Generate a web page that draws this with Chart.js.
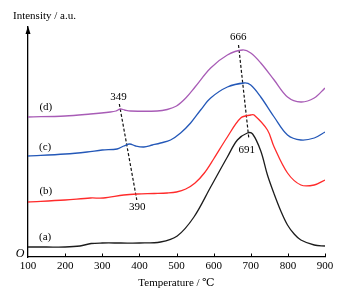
<!DOCTYPE html>
<html>
<head>
<meta charset="utf-8">
<script src="https://cdn.jsdelivr.net/npm/chart.js@4.4.0/dist/chart.umd.min.js"></script>
<style>
  html, body { margin: 0; padding: 0; background: #fff; }
  #wrap { width: 350px; height: 294px; }
</style>
</head>
<body>
<div id="wrap"><canvas id="myChart" width="350" height="294"></canvas></div>
<script>
// curve (a)
const tempA = [100, 150, 200, 240, 270, 300, 350, 400, 457, 502, 547, 592, 637, 664, 691, 705, 727, 745, 763, 781, 799, 817, 835, 871, 900];
const valA  = [10, 10, 10, 11, 13.5, 14, 14, 14, 15, 21, 40, 70, 100, 117, 124, 123, 106, 82, 63, 46, 32, 23, 17, 12, 11];
// curve (b)
const tempB = [100, 200, 268, 303, 358, 394, 440, 475, 500, 525, 550, 575, 600, 637, 673, 700, 709, 745, 763, 799, 835, 871, 900];
const valB  = [55, 57, 59, 59, 62, 63, 63.5, 64, 65, 68, 74, 84, 98, 120, 139, 142, 142, 127, 110, 84, 72, 72, 77];
// curve (c)
const tempC = [100, 200, 259, 300, 340, 358, 374, 390, 412, 435, 457, 484, 511, 538, 565, 592, 637, 682, 700, 727, 763, 799, 835, 871, 900];
const valC  = [101, 103, 105, 107, 108, 111, 113, 111, 110, 112, 114, 117, 124, 134, 147, 159, 170, 174, 172, 160, 140, 122, 117, 119, 125];
// curve (d)
const tempD = [100, 200, 268, 322, 337, 349, 360, 376, 448, 475, 500, 525, 550, 592, 637, 678, 700, 727, 763, 799, 835, 871, 900];
const valD  = [140, 141, 143, 145, 146, 148, 147, 146, 146, 147.5, 151, 159, 170, 189, 202, 207, 204, 194, 177, 160, 155, 159, 169];
// dashed guide lines
const guideLowT = [346, 393];
const guideLowV = [153, 57];
const guideHighT = [667, 695];
const guideHighV = [212, 118];
// tick labels
const xTicks = [100, 200, 300, 400, 500, 600, 700, 800, 900];

const serif = "'Liberation Serif', 'DejaVu Serif', serif";

const toPoints = (xs, ys) => xs.map((x, i) => ({ x: x, y: ys[i] }));

const curve = (pts, color) => ({
  data: pts,
  borderColor: color,
  borderWidth: 1.3,
  pointRadius: 0,
  tension: 0.35,
  fill: false,
});

const guide = (pts) => ({
  data: pts,
  borderColor: "#111",
  borderWidth: 1.2,
  borderDash: [3, 2],
  pointRadius: 0,
  tension: 0,
  fill: false,
});

// labels, arrow, inner ticks
const extras = {
  id: "extras",
  afterDraw(chart) {
    const ctx = chart.ctx;
    const xs = chart.scales.x;
    const ys = chart.scales.y;
    const area = chart.chartArea;
    ctx.save();
    ctx.fillStyle = "#000";
    ctx.strokeStyle = "#000";

    // arrow on y axis
    ctx.beginPath();
    ctx.moveTo(area.left, area.top - 1);
    ctx.lineTo(area.left - 2.5, area.top + 7);
    ctx.lineTo(area.left + 2.5, area.top + 7);
    ctx.closePath();
    ctx.fill();

    // inner tick marks
    ctx.lineWidth = 1;
    xTicks.slice(1).forEach((t) => {
      const px = Math.round(xs.getPixelForValue(t)) + 0.5;
      ctx.beginPath();
      ctx.moveTo(px, area.bottom);
      ctx.lineTo(px, area.bottom - 3.5);
      ctx.stroke();
    });

    ctx.textAlign = "center";
    ctx.textBaseline = "middle";
    ctx.font = "11px " + serif;
    const put = (txt, t, v) => ctx.fillText(txt, xs.getPixelForValue(t), ys.getPixelForValue(v));
    put("(a)", 146, 20);
    put("(b)", 148, 66);
    put("(c)", 146, 110);
    put("(d)", 148, 150);
    put("349", 344, 160);
    put("390", 394, 50);
    put("666", 666, 220);
    put("691", 689, 107);

    ctx.font = "italic 12px " + serif;
    ctx.fillText("O", area.left - 8, area.bottom - 3);

    ctx.textAlign = "left";
    ctx.font = "11px " + serif;
    ctx.fillText("Intensity / a.u.", 13, 16);
    ctx.restore();
  },
};

new Chart(document.getElementById("myChart").getContext("2d"), {
  type: "line",
  data: {
    datasets: [
      curve(toPoints(tempA, valA), "#1c1c1c"),
      curve(toPoints(tempB, valB), "#ff2b2b"),
      curve(toPoints(tempC, valC), "#2458b8"),
      curve(toPoints(tempD, valD), "#a85cb6"),
      guide(toPoints(guideLowT, guideLowV)),
      guide(toPoints(guideHighT, guideHighV)),
    ],
  },
  options: {
    responsive: false,
    animation: false,
    layout: { padding: { left: 28, right: 25, top: 27, bottom: 0 } },
    plugins: { legend: { display: false }, tooltip: { enabled: false } },
    scales: {
      x: {
        type: "linear",
        min: 100,
        max: 900,
        afterBuildTicks: (scale) => {
          scale.ticks = xTicks.map((v) => ({ value: v }));
        },
        afterFit: (scale) => {
          scale.height = 37;
        },
        grid: { display: false, drawTicks: false },
        border: { display: true, color: "#000", width: 1.3 },
        ticks: { color: "#000", font: { family: serif, size: 11 }, padding: 3, maxRotation: 0 },
        title: {
          display: true,
          text: "Temperature / ℃",
          color: "#000",
          font: { family: serif, size: 11 },
          padding: { top: 0, bottom: 4 },
        },
      },
      y: {
        min: 0,
        max: 230,
        afterFit: (scale) => {
          scale.width = 0;
        },
        grid: { display: false },
        border: { display: true, color: "#000", width: 1.3 },
        ticks: { display: false },
      },
    },
  },
  plugins: [extras],
});
</script>
</body>
</html>
